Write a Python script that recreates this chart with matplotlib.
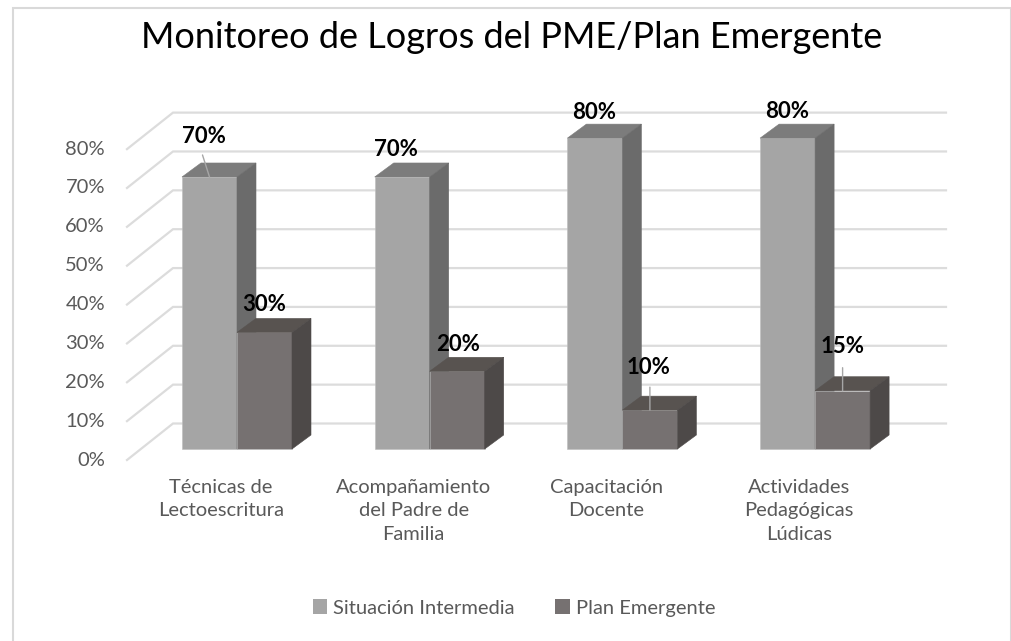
import matplotlib
matplotlib.use('Agg')
from matplotlib import pyplot as plt
from matplotlib.patches import Patch, Polygon, Rectangle

categorias = ['Técnicas de\nLectoescritura', 'Acompañamiento\ndel Padre de\nFamilia',
              'Capacitación\nDocente', 'Actividades\nPedagógicas\nLúdicas']
situacion_intermedia = [70, 70, 80, 80]
plan_emergente = [30, 20, 10, 15]
ticks = [0, 10, 20, 30, 40, 50, 60, 70, 80]

# pixeles de la imagen -> unidades de los ejes
PX_CAT = 192.7
PX_PCT = 3.886
X0 = 237
Y0 = 449
ANCHO = 55 / PX_CAT
DX = 19 / PX_CAT
DY = 14 / PX_PCT

plt.rcParams['font.family'] = ['Lato', 'DejaVu Sans']

fig = plt.figure(figsize=(10.11, 6.41), dpi=100)
ax = fig.add_axes([0, 0, 1, 1])
ax.set_xlim(-X0 / PX_CAT, (1011 - X0) / PX_CAT)
ax.set_ylim((Y0 - 641) / PX_PCT, Y0 / PX_PCT)
ax.axis('off')


def cat_x(px):
    return (px - X0) / PX_CAT


def pct_y(py):
    return (Y0 - py) / PX_PCT


# marco exterior
ax.add_patch(Rectangle((cat_x(12.5), pct_y(660)), 998 / PX_CAT, 652 / PX_PCT,
                       fill=False, edgecolor='#D9D9D9', linewidth=1.5))

# rejilla con la pared lateral
for t in ticks:
    y_frente = pct_y(460) + t
    y_fondo = pct_y(423.5) + t
    ax.plot([cat_x(127), cat_x(173), cat_x(946)], [y_frente, y_fondo, y_fondo],
            color='#DCDCDC', linewidth=1.6, zorder=1, solid_joinstyle='miter')
    ax.text(cat_x(105), y_frente, f'{t}%', ha='right', va='center',
            fontsize=14.5, color='#595959')


def barra_3d(x, valor, frente, arriba, lado):
    x2 = x + ANCHO
    ax.bar(x, valor, width=ANCHO, align='edge', color=frente, edgecolor='#BDBDBD',
           linewidth=0.4, zorder=3)
    ax.add_patch(Polygon([(x, valor), (x + DX, valor + DY), (x2 + DX, valor + DY), (x2, valor)],
                         facecolor=arriba, edgecolor=arriba, linewidth=0.4, zorder=3))
    ax.add_patch(Polygon([(x2, 0), (x2 + DX, DY), (x2 + DX, valor + DY), (x2, valor)],
                         facecolor=lado, edgecolor=lado, linewidth=0.4, zorder=3))


for i in range(len(categorias)):
    barra_3d(i - ANCHO, situacion_intermedia[i], '#A5A5A5', '#7C7C7C', '#6B6B6B')
    barra_3d(i, plan_emergente[i], '#767171', '#585350', '#4D4948')

# etiquetas de datos: desplazamiento en pixeles desde el centro de la cara superior
pos_s1 = [(-5.5, 40), (-6.5, 27), (-0.5, 26), (-0.5, 27)]
pos_s2 = [(-0.5, 28), (0.5, 27), (-1, 43), (-0.5, 44)]
lider_s1 = [(-7, 22), None, None, None]
lider_s2 = [None, None, (0, 23), (0, 23)]

for i in range(len(categorias)):
    for x, valor, pos, lider in [(i - ANCHO / 2, situacion_intermedia[i], pos_s1[i], lider_s1[i]),
                                 (i + ANCHO / 2, plan_emergente[i], pos_s2[i], lider_s2[i])]:
        if lider:
            ax.annotate('', xy=(x, valor), xytext=(lider[0] * 0.72, lider[1] * 0.72),
                        textcoords='offset points', zorder=4,
                        arrowprops=dict(arrowstyle='-', color='#A6A6A6', lw=1, shrinkA=0, shrinkB=0))
        ax.annotate(f'{valor}%', xy=(x, valor), xytext=(pos[0] * 0.72, pos[1] * 0.72),
                    textcoords='offset points', ha='center', va='center',
                    fontsize=16, fontweight='bold', color='black', zorder=5)

# categorias
for i, nombre in enumerate(categorias):
    ax.text(i - 16 / PX_CAT, pct_y(479), nombre, ha='center', va='top',
            fontsize=14.5, color='#595959', linespacing=1.45)

ax.text(cat_x(512), pct_y(37), 'Monitoreo de Logros del PME/Plan Emergente',
        ha='center', va='center', fontsize=26, color='black')

handles = [Patch(facecolor='#A5A5A5', label='Situación Intermedia'),
           Patch(facecolor='#767171', label='Plan Emergente')]
leg = ax.legend(handles=handles, ncol=2, loc='center', bbox_to_anchor=(514 / 1011, 1 - 608 / 641),
                frameon=False, fontsize=14.5, handlelength=0.72, handleheight=0.72,
                handletextpad=0.3, columnspacing=2.0, borderpad=0, labelcolor='#595959')

fig.savefig('out.png', dpi=100)
